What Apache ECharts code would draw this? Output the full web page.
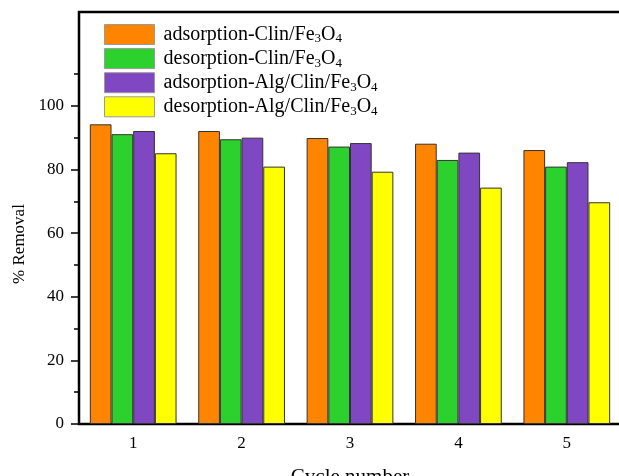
<!DOCTYPE html>
<html>
<head>
<meta charset="utf-8">
<script src="https://cdn.jsdelivr.net/npm/echarts@6/dist/echarts.min.js"></script>
<style>
  html, body { margin: 0; padding: 0; background: #fff; }
  #chart { width: 619px; height: 476px; }
</style>
</head>
<body>
<div id="chart"></div>
<script>
// Cycle numbers on the x axis
const cycles = ['1', '2', '3', '4', '5'];

// % removal for each cycle
const adsClin = [94.2, 92.1, 89.9, 88.1, 86.1];
const desClin = [91.1, 89.5, 87.2, 83.0, 80.9];
const adsAlgClin = [92.1, 90.0, 88.3, 85.3, 82.3];
const desAlgClin = [85.1, 80.9, 79.3, 74.3, 69.7];

// Series names (rich text: {s|..} is a subscript)
const seriesNames = [
  'adsorption-Clin/Fe{s|3}O{s|4}',
  'desorption-Clin/Fe{s|3}O{s|4}',
  'adsorption-Alg/Clin/Fe{s|3}O{s|4}',
  'desorption-Alg/Clin/Fe{s|3}O{s|4}'
];

// Y axis tick values
const majorTicks = [0, 20, 40, 60, 80, 100];
const minorTicks = [10, 30, 50, 70, 90, 110];

const colors = ['#FF8400', '#2DD12D', '#7F47C2', '#FFFF00'];
const serif = '"Liberation Serif", "Times New Roman", serif';

const chart = echarts.init(document.getElementById('chart'), null, { renderer: 'canvas' });

const values = [adsClin, desClin, adsAlgClin, desAlgClin];

chart.setOption({
  animation: false,
  backgroundColor: '#fff',
  color: colors,
  grid: {
    left: 79, right: -2, top: 12, bottom: 52,
    outerBoundsMode: 'none',
    containLabel: false,
    show: true, borderColor: '#000', borderWidth: 2.5, backgroundColor: 'transparent'
  },
  legend: {
    orient: 'vertical',
    left: 99, top: 19,
    itemWidth: 50, itemHeight: 20, itemGap: 2.6,
    selectedMode: false,
    icon: 'rect',
    itemStyle: { borderColor: '#9a9a9a', borderWidth: 1 },
    textStyle: {
      fontFamily: serif, fontSize: 20, color: '#000', lineHeight: 20,
      padding: [0, 0, 0, 4],
      rich: {
        s: { fontFamily: serif, fontSize: 13, color: '#000', padding: [9, 0, 0, 0] }
      }
    },
    data: seriesNames
  },
  xAxis: [
    {
      type: 'category', data: cycles, gridIndex: 0,
      axisLine: { lineStyle: { color: '#000', width: 2 } },
      axisTick: { alignWithLabel: true, length: 8, lineStyle: { color: '#000', width: 1.5 } },
      axisLabel: { fontFamily: serif, fontSize: 17, color: '#000', margin: 11 },
      name: 'Cycle number', nameLocation: 'middle', nameGap: 43,
      nameTextStyle: { fontFamily: serif, fontSize: 21, color: '#000' }
    },
    {
      type: 'category', data: cycles, gridIndex: 0, position: 'bottom',
      axisLine: { show: false },
      axisTick: { alignWithLabel: false, length: 5, lineStyle: { color: '#000', width: 1.5 } },
      axisLabel: { show: false }
    }
  ],
  yAxis: [
    {
      type: 'value', min: 0, max: 129.5, position: 'left',
      splitLine: { show: false },
      axisLine: { show: true, lineStyle: { color: '#000', width: 2 } },
      axisTick: { show: true, length: 8, customValues: majorTicks, lineStyle: { color: '#000', width: 1.5 } },
      axisLabel: { customValues: majorTicks, fontFamily: serif, fontSize: 17, color: '#000', margin: 15 },
      name: '% Removal', nameLocation: 'middle', nameGap: 51, nameRotate: 90,
      nameTextStyle: { fontFamily: serif, fontSize: 17, color: '#000', padding: [0, 52, 0, 0] }
    },
    {
      type: 'value', min: 0, max: 129.5, position: 'left',
      splitLine: { show: false },
      axisLine: { show: false },
      axisTick: { show: true, length: 5, customValues: minorTicks, lineStyle: { color: '#000', width: 1.5 } },
      axisLabel: { show: false }
    }
  ],
  series: seriesNames.map((name, i) => ({
    name: name,
    type: 'bar',
    xAxisIndex: 0,
    yAxisIndex: 0,
    data: values[i],
    barGap: '0%',
    barCategoryGap: '20%',
    itemStyle: { color: colors[i], borderColor: '#333', borderWidth: 1 }
  }))
});
</script>
</body>
</html>
